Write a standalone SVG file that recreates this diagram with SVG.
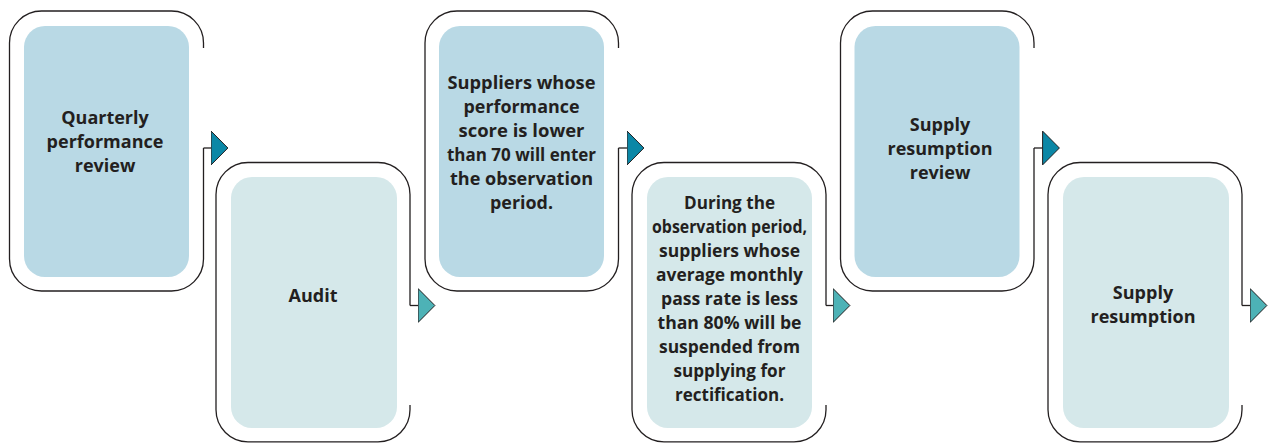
<svg xmlns="http://www.w3.org/2000/svg" width="1269" height="443" viewBox="0 0 1269 443">
<style>
.frame{fill:none;stroke:#231f20;stroke-width:1.3}
.top{fill:#b9d9e5}
.bot{fill:#d5e8ea}
.lbl{font-family:"Open Sans","Noto Sans","Liberation Sans",sans-serif;font-weight:700;font-size:18px;fill:#231f20;text-anchor:middle}
.cn{fill:none;stroke:#231f20;stroke-width:1.3}
</style>
<defs>
<marker id="arrDark" viewBox="0 0 18 35" refX="0.5" refY="17.5" markerWidth="18" markerHeight="35" markerUnits="userSpaceOnUse" orient="auto">
<path d="M0.6,0.6 L17.4,17.5 L0.6,34.4 Z" fill="#0b87a6" stroke="#231f20" stroke-width="1"/>
</marker>
<marker id="arrLight" viewBox="0 0 18 35" refX="0.5" refY="17.5" markerWidth="18" markerHeight="35" markerUnits="userSpaceOnUse" orient="auto">
<path d="M0.6,0.6 L17.4,17.5 L0.6,34.4 Z" fill="#4db2b6" stroke="#231f20" stroke-width="1"/>
</marker>
</defs>

<g id="node1">
<path class="frame" d="M203.5,48 V43 A32,32 0 0 0 171.5,11 H41.5 A32,32 0 0 0 9.5,43 V259 A32,32 0 0 0 41.5,291 H171.5 A32,32 0 0 0 203.5,259 V148"/>
<rect class="top" x="24" y="26" width="165" height="251" rx="21"/>
<text class="lbl" x="105" y="124">Quarterly</text>
<text class="lbl" x="105" y="148">performance</text>
<text class="lbl" x="105" y="172">review</text>
</g>

<g id="node2">
<path class="frame" d="M410,305.5 V194.5 A32,32 0 0 0 378,162.5 H248 A32,32 0 0 0 216,194.5 V409.8 A32,32 0 0 0 248,441.8 H378 A32,32 0 0 0 410,409.8 V405"/>
<rect class="bot" x="231" y="177" width="166" height="251" rx="21"/>
<text class="lbl" x="313" y="302">Audit</text>
</g>

<g id="node3">
<path class="frame" d="M618.5,48 V43 A32,32 0 0 0 586.5,11 H457 A32,32 0 0 0 425,43 V259 A32,32 0 0 0 457,291 H586.5 A32,32 0 0 0 618.5,259 V148"/>
<rect class="top" x="439" y="26" width="165" height="251" rx="21"/>
<text class="lbl" x="521.5" y="89" textLength="148" lengthAdjust="spacingAndGlyphs">Suppliers whose</text>
<text class="lbl" x="521.5" y="113" textLength="116" lengthAdjust="spacingAndGlyphs">performance</text>
<text class="lbl" x="521.5" y="137" textLength="126" lengthAdjust="spacingAndGlyphs">score is lower</text>
<text class="lbl" x="521.5" y="161" textLength="149" lengthAdjust="spacingAndGlyphs">than 70 will enter</text>
<text class="lbl" x="521.5" y="185" textLength="143" lengthAdjust="spacingAndGlyphs">the observation</text>
<text class="lbl" x="521.5" y="209" textLength="63" lengthAdjust="spacingAndGlyphs">period.</text>
</g>

<g id="node4">
<path class="frame" d="M826,305.5 V194.5 A32,32 0 0 0 794,162.5 H664 A32,32 0 0 0 632,194.5 V409.8 A32,32 0 0 0 664,441.8 H794 A32,32 0 0 0 826,409.8 V405"/>
<rect class="bot" x="647" y="177" width="165" height="251" rx="21"/>
<text class="lbl" x="729.5" y="209" textLength="91" lengthAdjust="spacingAndGlyphs">During the</text>
<text class="lbl" x="729.5" y="233" textLength="155" lengthAdjust="spacingAndGlyphs">observation period,</text>
<text class="lbl" x="729.5" y="257" textLength="141" lengthAdjust="spacingAndGlyphs">suppliers whose</text>
<text class="lbl" x="729.5" y="281" textLength="147" lengthAdjust="spacingAndGlyphs">average monthly</text>
<text class="lbl" x="729.5" y="305" textLength="137" lengthAdjust="spacingAndGlyphs">pass rate is less</text>
<text class="lbl" x="729.5" y="329" textLength="144" lengthAdjust="spacingAndGlyphs">than 80% will be</text>
<text class="lbl" x="729.5" y="353" textLength="141" lengthAdjust="spacingAndGlyphs">suspended from</text>
<text class="lbl" x="729.5" y="377" textLength="112" lengthAdjust="spacingAndGlyphs">supplying for</text>
<text class="lbl" x="729.5" y="401" textLength="109" lengthAdjust="spacingAndGlyphs">rectification.</text>
</g>

<g id="node5">
<path class="frame" d="M1034,48 V43 A32,32 0 0 0 1002,11 H872.5 A32,32 0 0 0 840.5,43 V259 A32,32 0 0 0 872.5,291 H1002 A32,32 0 0 0 1034,259 V148"/>
<rect class="top" x="854.5" y="26" width="165" height="251" rx="21"/>
<text class="lbl" x="940" y="131">Supply</text>
<text class="lbl" x="940" y="155">resumption</text>
<text class="lbl" x="940" y="179">review</text>
</g>

<g id="node6">
<path class="frame" d="M1242,305.5 V194.5 A32,32 0 0 0 1210,162.5 H1080 A32,32 0 0 0 1048,194.5 V409.8 A32,32 0 0 0 1080,441.8 H1210 A32,32 0 0 0 1242,409.8 V405"/>
<rect class="bot" x="1063" y="177" width="166" height="251" rx="21"/>
<text class="lbl" x="1143" y="299">Supply</text>
<text class="lbl" x="1143" y="323">resumption</text>
</g>

<g id="connectors">
<path class="cn" d="M203.5,148 H211" marker-end="url(#arrDark)"/>
<path class="cn" d="M410,305.5 H418" marker-end="url(#arrLight)"/>
<path class="cn" d="M618.5,148 H627" marker-end="url(#arrDark)"/>
<path class="cn" d="M826,305.5 H833" marker-end="url(#arrLight)"/>
<path class="cn" d="M1034,148 H1042.5" marker-end="url(#arrDark)"/>
<path class="cn" d="M1242,305.5 H1250" marker-end="url(#arrLight)"/>
</g>
</svg>
